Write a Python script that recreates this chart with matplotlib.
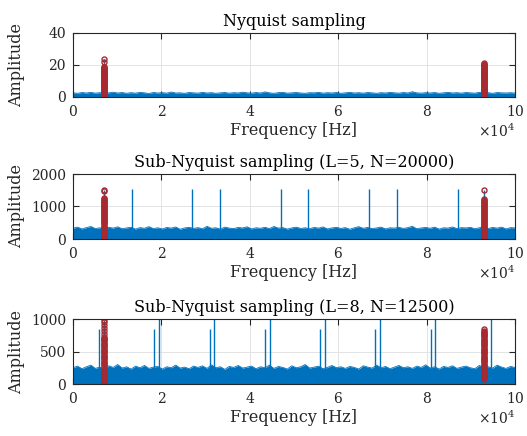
import numpy as np
import matplotlib.pyplot as plt
from matplotlib.ticker import ScalarFormatter

plt.rcParams['font.family'] = ['DejaVu Serif']
plt.rcParams['mathtext.fontset'] = 'dejavuserif'

blue = '#0072BD'
red = '#A82A30'

titles = ['Nyquist sampling',
          'Sub-Nyquist sampling (L=5, N=20000)',
          'Sub-Nyquist sampling (L=8, N=12500)']
y_max = [40, 2000, 1000]
y_ticks = [[0, 20, 40], [0, 1000, 2000], [0, 500, 1000]]
x_ticks = [0, 20000, 40000, 60000, 80000, 100000]

# noise floor envelope (Amplitude), read across 0..1e5 Hz
noise_nyq = [2.6, 2.3, 2.8, 2.5, 2.9, 2.4, 2.7, 2.2, 2.6, 3.0,
             2.5, 2.8, 2.3, 2.7, 2.4, 2.9, 2.6, 2.2, 2.8, 2.5,
             2.7, 2.4, 3.1, 2.5, 2.6, 2.3, 2.8, 2.6, 2.4, 2.9,
             2.5, 2.7, 2.3, 2.6, 2.8, 2.4, 2.7, 2.5, 3.0, 2.6,
             2.4, 2.8, 2.5, 3.2, 2.6, 2.3, 2.7, 2.9, 2.4, 2.6,
             2.8, 2.5, 2.3, 2.7, 2.6, 2.9, 2.4, 2.7, 2.5, 2.8,
             2.3, 2.6, 2.9, 2.5, 2.7, 2.4, 2.8, 2.6, 2.3, 2.7,
             2.5, 2.9, 2.6, 2.4, 2.8, 2.5, 3.3, 2.6, 2.4, 2.7,
             2.5, 2.8, 2.3, 2.6, 2.9, 2.5, 2.7, 2.4, 2.8, 2.6,
             2.4, 2.9, 2.5, 2.7, 2.3, 2.8, 2.6, 2.5, 2.7, 2.4]
noise_l5 = [330, 365, 310, 350, 385, 320, 345, 300, 360, 335,
            375, 315, 340, 360, 305, 350, 330, 380, 320, 345,
            310, 355, 335, 370, 300, 340, 360, 325, 350, 315,
            390, 330, 345, 305, 365, 335, 320, 355, 340, 375,
            310, 345, 330, 360, 320, 385, 335, 350, 305, 340,
            365, 325, 345, 315, 355, 335, 370, 310, 340, 360,
            325, 350, 300, 345, 380, 330, 355, 320, 340, 365,
            310, 345, 335, 360, 325, 350, 390, 315, 340, 355,
            330, 365, 305, 345, 335, 370, 320, 350, 340, 360,
            315, 345, 380, 325, 355, 335, 365, 310, 350, 340]
noise_l8 = [250, 275, 235, 265, 290, 240, 260, 225, 280, 255,
            300, 245, 265, 230, 275, 250, 285, 240, 260, 270,
            230, 265, 250, 290, 245, 260, 235, 275, 255, 280,
            240, 295, 250, 265, 225, 270, 255, 285, 245, 260,
            275, 235, 265, 250, 290, 240, 270, 255, 230, 280,
            250, 265, 300, 245, 260, 275, 235, 255, 285, 250,
            265, 240, 270, 255, 230, 280, 260, 245, 290, 250,
            270, 235, 260, 285, 250, 265, 240, 275, 255, 295,
            245, 265, 230, 270, 255, 280, 240, 260, 275, 250,
            235, 285, 255, 265, 245, 290, 260, 240, 270, 255]

# aliased tones (blue spikes)
alias_nyq_f = []
alias_nyq_a = []
alias_l5_f = [13300, 27000, 33200, 47000, 53200, 67000, 73200, 87000]
alias_l5_a = [1530, 1530, 1530, 1530, 1530, 1530, 1530, 1530]
alias_l8_f = [5900, 18400, 19500, 30900, 32000, 43400, 44500,
              55900, 57000, 68400, 69500, 80900, 82000, 94500]
alias_l8_a = [850, 850, 1200, 850, 1200, 850, 1200,
              850, 1200, 850, 1200, 850, 1200, 1200]

# detected signal bins (red circles) at the two tone frequencies
sig_f = [7000, 93000]
sig_nyq_lo = [23.6, 22.1, 19.0, 18.6, 18.1, 17.7, 17.2, 16.8, 16.3, 15.9, 15.4,
              15.0, 14.5, 14.1, 13.6, 13.2, 12.7, 12.3, 11.8, 11.4, 10.9, 10.5,
              10.0, 9.6, 9.1, 8.7, 8.2, 7.8, 7.3, 6.9, 6.4, 6.0, 5.5, 5.1, 4.6,
              4.2, 3.7, 3.3, 2.8, 2.4, 1.9, 1.5]
sig_nyq_hi = [21.0, 20.6, 20.1, 19.7, 19.2, 18.8, 18.3, 17.9, 17.4, 17.0, 16.5,
              16.1, 15.6, 15.2, 14.7, 14.3, 13.8, 13.4, 12.9, 12.5, 12.0, 11.6,
              11.1, 10.7, 10.2, 9.8, 9.3, 8.9, 8.4, 8.0, 7.5, 7.1, 6.6, 6.2, 5.7,
              5.3, 4.8, 4.4, 3.9, 3.5, 3.0, 2.6, 2.1, 1.7, 1.2, 0.8, 0.3]
sig_l5_lo = [1520, 1480, 1250, 1225, 1200, 1175, 1150, 1120, 1090, 1055, 1020,
             990, 960, 930, 900, 865, 830, 800, 770, 735, 700, 670, 640, 610,
             580, 545, 510, 480, 450, 415, 380, 350, 320, 290, 260, 225, 190,
             160, 130, 95, 60, 35, 10]
sig_l5_hi = [1520, 1230, 1205, 1180, 1150, 1120, 1090, 1060, 1025, 990, 960,
             930, 900, 870, 835, 800, 770, 740, 710, 680, 645, 610, 580, 550,
             520, 490, 455, 420, 390, 360, 330, 300, 265, 230, 200, 170, 140,
             110, 80, 50, 30, 10]
sig_l8_lo = [990, 950, 905, 865, 820, 775, 720, 705, 690, 672, 655, 638, 620,
             600, 580, 562, 545, 525, 505, 488, 470, 450, 430, 412, 395, 378,
             360, 340, 320, 302, 285, 265, 245, 228, 210, 190, 170, 152, 135,
             115, 95, 78, 60, 40, 20]
sig_l8_hi = [840, 822, 805, 788, 770, 752, 735, 718, 700, 682, 665, 648, 630,
             612, 595, 578, 560, 542, 525, 508, 490, 472, 455, 438, 420, 402,
             385, 368, 350, 332, 315, 298, 280, 262, 245, 228, 210, 192, 175,
             158, 140, 122, 105, 92, 80]

panels = [
    (noise_nyq, alias_nyq_f, alias_nyq_a, sig_nyq_lo, sig_nyq_hi),
    (noise_l5, alias_l5_f, alias_l5_a, sig_l5_lo, sig_l5_hi),
    (noise_l8, alias_l8_f, alias_l8_a, sig_l8_lo, sig_l8_hi),
]

W, H = 527, 436
fig = plt.figure(figsize=(W / 100, H / 100), dpi=100)
rects = [(73, 33, 515, 97), (73, 174, 515, 239), (73, 319, 515, 384)]

for i, (noise, af, aa, s_lo, s_hi) in enumerate(panels):
    x0, y0, x1, y1 = rects[i]
    ax = fig.add_axes([x0 / W, 1 - y1 / H, (x1 - x0) / W, (y1 - y0) / H])

    freq = np.linspace(0, 100000, len(noise))
    ax.fill_between(freq, 0, noise, color=blue, lw=0)
    ax.plot(freq, noise, color=blue, lw=0.6)
    ax.vlines(af, 0, aa, color=blue, lw=1.0)
    for f, amps in zip(sig_f, [s_lo, s_hi]):
        ax.vlines(f, 0, max(amps), color=blue, lw=1.0)
        ax.plot([f] * len(amps), amps, 'o', ms=3.6, mfc='none',
                mec=red, mew=1.0)

    ax.set_xlim(0, 100000)
    ax.set_ylim(0, y_max[i])
    ax.set_xticks(x_ticks)
    ax.set_yticks(y_ticks[i])
    fmt = ScalarFormatter(useMathText=True)
    fmt.set_powerlimits((4, 4))
    ax.xaxis.set_major_formatter(fmt)
    ax.xaxis.get_offset_text().set_fontsize(10)
    ax.xaxis.get_offset_text().set_color('#262626')

    ax.grid(True, color='#e3e3e3', lw=0.7)
    ax.set_axisbelow(True)
    ax.tick_params(direction='in', top=True, right=True, length=4,
                   width=0.8, labelsize=10, colors='#262626', pad=5)
    for s in ax.spines.values():
        s.set_color('#262626')
        s.set_linewidth(0.8)

    ax.set_title(titles[i], fontsize=11.5, pad=5, color='black')
    ax.set_xlabel('Frequency [Hz]', fontsize=11.5, labelpad=2, color='#262626')
    ax.set_ylabel('Amplitude', fontsize=11.5, color='#262626')
    ax.yaxis.set_label_coords(-0.108, 0.5)

fig.savefig('out.png', dpi=100)
